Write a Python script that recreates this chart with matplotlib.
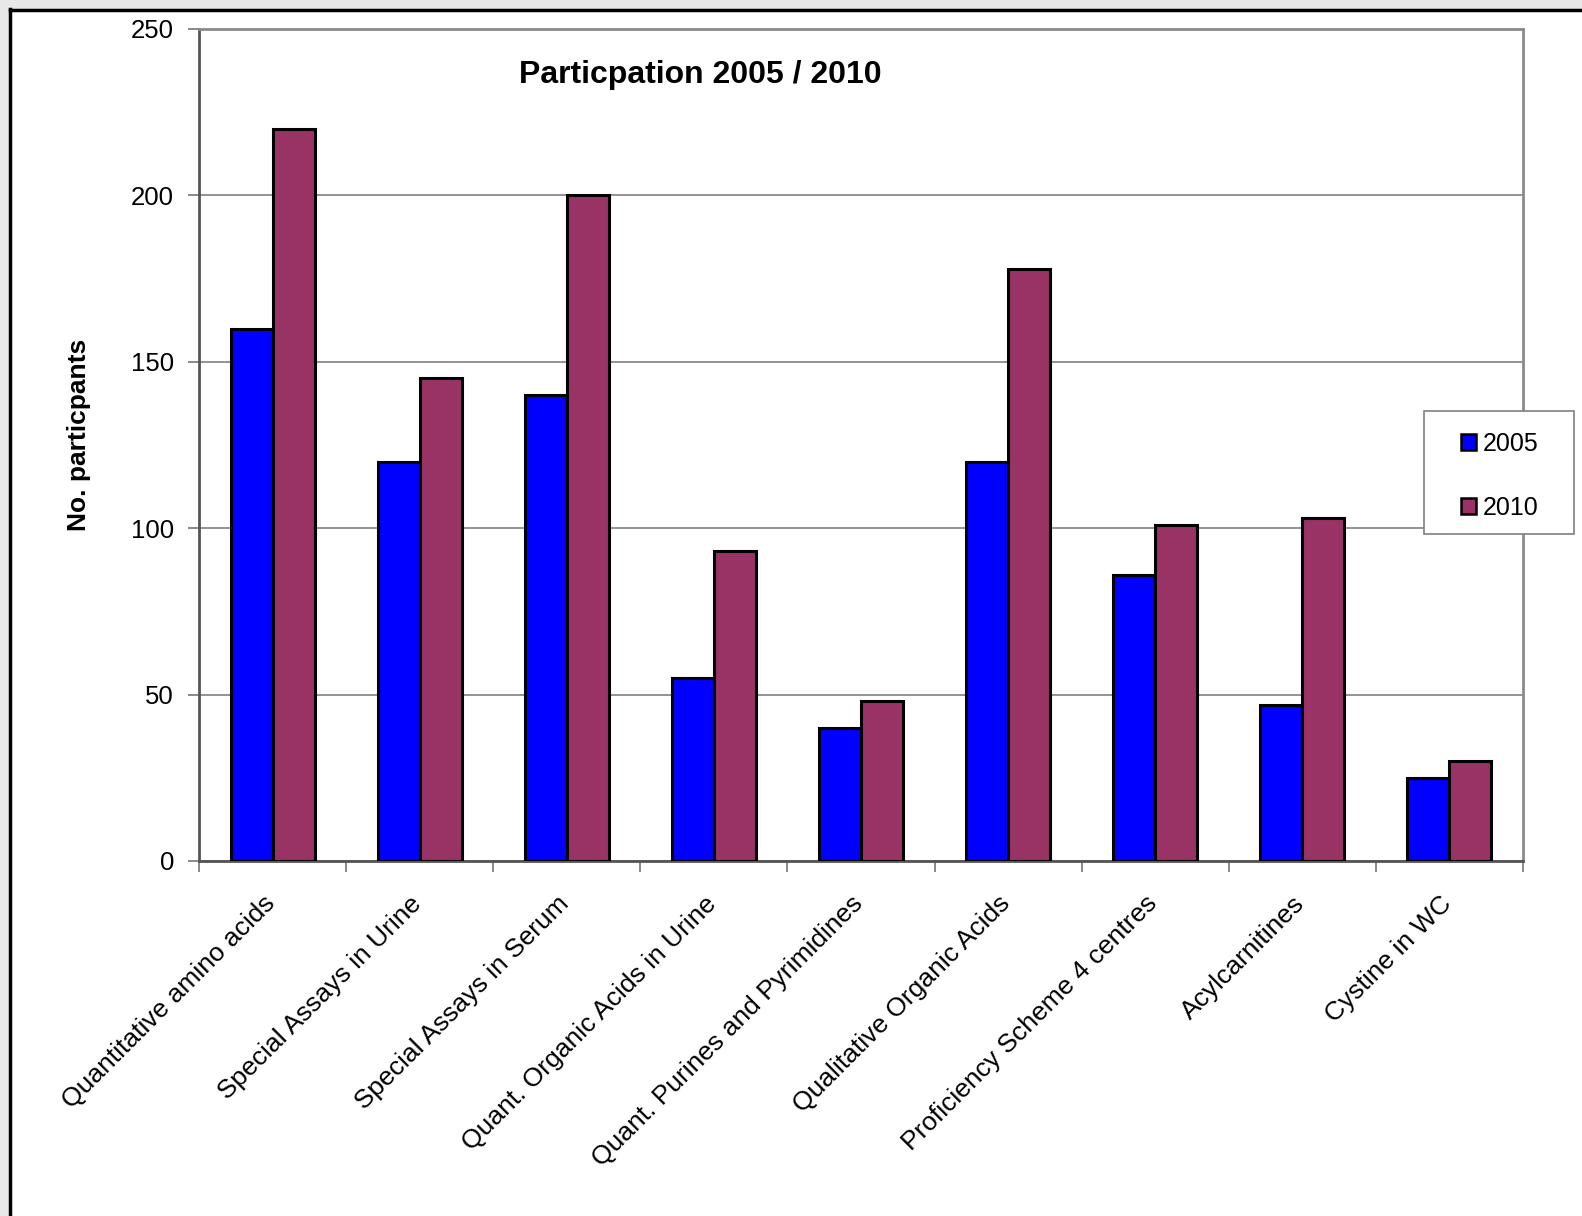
import matplotlib
matplotlib.use("Agg")
import matplotlib.pyplot as plt
import matplotlib.transforms as mtransforms
import numpy as np
from matplotlib.patches import Rectangle
from matplotlib.lines import Line2D

categories = ["Quantitative amino acids", "Special Assays in Urine", "Special Assays in Serum",
              "Quant. Organic Acids in Urine", "Quant. Purines and Pyrimidines",
              "Qualitative Organic Acids", "Proficiency Scheme 4 centres",
              "Acylcarnitines", "Cystine in WC"]
values_2005 = [160, 120, 140, 55, 40, 120, 86, 47, 25]
values_2010 = [220, 145, 200, 93, 48, 178, 101, 103, 30]
series_labels = ["2005", "2010"]
y_ticks = [0, 50, 100, 150, 200, 250]

plt.rcParams['font.family'] = ['Liberation Sans', 'DejaVu Sans']

W, H = 1582, 1216
fig = plt.figure(figsize=(W / 100, H / 100), dpi=100)
fig.patch.set_facecolor('white')

# outer frame decoration (gray band + black border at top and left)
fig.patches.append(Rectangle((0, 1 - 9 / H), 1, 9 / H, transform=fig.transFigure,
                             facecolor='#e8e8e8', edgecolor='none', zorder=0))
fig.patches.append(Rectangle((0, 0), 9 / W, 1, transform=fig.transFigure,
                             facecolor='#e8e8e8', edgecolor='none', zorder=0))
fig.lines.append(Line2D([9.5 / W, 1], [1 - 10 / H, 1 - 10 / H], transform=fig.transFigure,
                        color='black', lw=2.5))
fig.lines.append(Line2D([10 / W, 10 / W], [0, 1 - 9 / H], transform=fig.transFigure,
                        color='black', lw=2.5))

left, right, top, bottom = 199 / W, 1523 / W, 1 - 29 / H, 1 - 861 / H
ax = fig.add_axes([left, bottom, right - left, top - bottom])

x = np.arange(len(categories))
bw = 1 / 3.5
ax.bar(x - bw / 2, values_2005, bw, color='#0000ff', edgecolor='black', linewidth=2.2,
       label=series_labels[0], zorder=3)
ax.bar(x + bw / 2, values_2010, bw, color='#993366', edgecolor='black', linewidth=2.2,
       label=series_labels[1], zorder=3)

ax.set_xlim(-0.5, len(categories) - 0.5)
ax.set_ylim(0, 250)
ax.set_yticks(y_ticks)
ax.set_yticklabels([str(t) for t in y_ticks], fontsize=18.5)
ax.yaxis.grid(True, color='#808080', linewidth=1.2, zorder=0)
ax.set_axisbelow(True)

ax.set_xticks(np.arange(-0.5, len(categories), 1.0))
ax.set_xticklabels([])
ax.set_xticks(x, minor=True)
ax.set_xticklabels(categories, minor=True, rotation=45, ha='right', va='top',
                   rotation_mode='anchor', fontsize=19)
ax.tick_params(axis='x', which='minor', length=0, pad=22)
ax.tick_params(axis='x', which='major', length=8, color='#808080', width=1.3)
ax.tick_params(axis='y', length=8, color='#808080', width=1.3, pad=10)
offset = mtransforms.ScaledTranslation(-10 / 100, 0, fig.dpi_scale_trans)
for lab in ax.get_xticklabels(minor=True):
    lab.set_transform(lab.get_transform() + offset)

for s in ax.spines.values():
    s.set_color('#8a8a8a')
    s.set_linewidth(2)
ax.spines['left'].set_color('#555555')
ax.spines['bottom'].set_color('#555555')

fig.text(79 / W, 1 - 435 / H, "No. particpants", rotation=90, ha='center', va='center',
         fontsize=19, fontweight='bold')
ax.text(0.379, 0.945, "Particpation 2005 / 2010", transform=ax.transAxes,
        ha='center', va='center', fontsize=23, fontweight='bold')

# legend frame
fig.patches.append(Rectangle((1424 / W, 1 - 534 / H), 150 / W, 123 / H, transform=fig.transFigure,
                             facecolor='white', edgecolor='#808080', linewidth=1.2, zorder=2))
leg = fig.legend(loc='upper left', bbox_to_anchor=(1461 / W, 1 - 432 / H),
                 fontsize=18, frameon=False,
                 handlelength=0.6, handleheight=0.6, handletextpad=0.25,
                 labelspacing=1.6, borderpad=0, borderaxespad=0)
leg.set_zorder(5)
for h in leg.legend_handles:
    h.set_linewidth(1.8)

fig.savefig("out.png", dpi=100)
